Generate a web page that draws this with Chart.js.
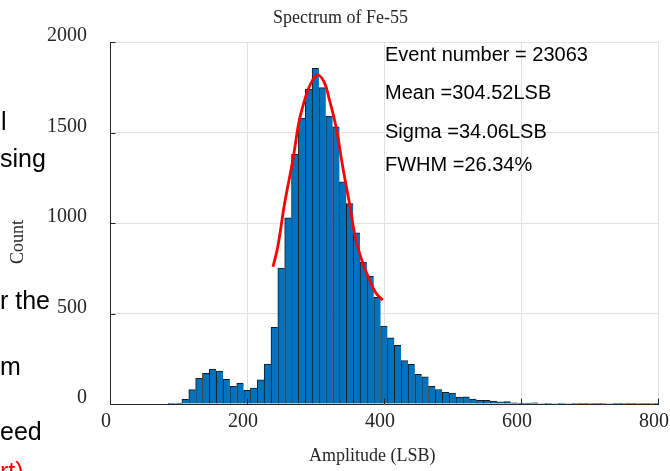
<!DOCTYPE html>
<html><head><meta charset="utf-8">
<script src="https://cdn.jsdelivr.net/npm/chart.js@4.4.1/dist/chart.umd.min.js"></script>
<style>
html,body{margin:0;padding:0;background:#fff;overflow:hidden}
#wrap{position:relative;width:670px;height:471px;overflow:hidden;background:#fff}
canvas{position:absolute;left:0;top:0}
.t{position:absolute;white-space:nowrap;line-height:1}
.serif{font-family:'Liberation Serif','Times New Roman',serif;color:#262626}
.sans{font-family:'Liberation Sans',Arial,sans-serif;color:#000}
</style></head><body>
<div id="wrap">
<canvas id="c" width="670" height="471"></canvas>
<div class="t sans" style="left:1px;top:108.8px;font-size:25px">l</div>
<div class="t sans" style="left:0px;top:145.8px;font-size:25px">sing</div>
<div class="t sans" style="left:0px;top:287.8px;font-size:25px">r the</div>
<div class="t sans" style="left:0px;top:353.8px;font-size:25px">m</div>
<div class="t sans" style="left:0px;top:418.8px;font-size:25px">eed</div>
<div class="t sans" style="left:0px;top:458.8px;font-size:25px;color:#ff0000">rt)</div>
<div class="t serif" id="title" style="left:273px;top:7.9px;font-size:18px">Spectrum of Fe-55</div>
<div class="t serif" id="xlab" style="left:309px;top:445.9px;font-size:18px">Amplitude (LSB)</div>
<div class="t serif" id="ylab" style="left:17px;top:242px;font-size:18px;transform:translate(-50%,-50%) rotate(-90deg)">Count</div>
<div class="t sans" style="left:385px;top:44.1px;font-size:20px">Event number = 23063</div>
<div class="t sans" style="left:385px;top:82.1px;font-size:20px">Mean =304.52LSB</div>
<div class="t sans" style="left:385px;top:121.1px;font-size:20px">Sigma =34.06LSB</div>
<div class="t sans" style="left:385px;top:154.1px;font-size:20px">FWHM =26.34%</div>
</div>
<script>
// ---- data ----
const binCenters = [90,100,110,120,130,140,150,160,170,180,190,200,210,220,230,240,250,260,270,280,290,300,310,320,330,340,350,360,370,380,390,400,410,420,430,440,450,460,470,480,490,500,510,520,530,540,550,560,570,580,590,600,610,620,630,640,650,660,670,680,690,700,710,720,730,740,750,760,770,780,790,800];
const counts = [1,5,26,79,142,170,193,182,136,98,114,76,88,133,221,424,751,1028,1379,1580,1740,1855,1748,1591,1532,1228,1107,946,784,706,590,430,365,324,240,219,164,150,97,80,64,61,38,40,27,20,20,16,12,13,7,5,5,7,3,2,3,2,3,2,1,2,1,2,3,1,2,1,2,1,2,1];
const fitX = [238,245,255,267,276,285,293,303,313,320,330,340,350,359,369,379,388,398];
const fitY = [758,870,1110,1350,1560,1690,1770,1818,1775,1685,1530,1305,1100,906,779,685,615,573];
const xTicks = [0,200,400,600,800];
const yTicks = [0,500,1000,1500,2000];

const serif = "'Liberation Serif','Times New Roman',serif";
const axisColor = '#262626';
const gridColor = '#e2e2e2';

const innerTicks = {
  id: 'innerTicks',
  afterDatasetsDraw(chart) {
    const {ctx, chartArea: a} = chart;
    const sx = chart.scales.x, sy = chart.scales.y;
    ctx.save();
    ctx.strokeStyle = axisColor;
    ctx.lineWidth = 1;
    xTicks.forEach(v => {
      const px = Math.round(sx.getPixelForValue(v)) + 0.5;
      ctx.beginPath(); ctx.moveTo(px, a.bottom); ctx.lineTo(px, a.bottom - 5.5); ctx.stroke();
    });
    yTicks.forEach(v => {
      const py = Math.round(sy.getPixelForValue(v)) + 0.5;
      ctx.beginPath(); ctx.moveTo(a.left, py); ctx.lineTo(a.left + 5.5, py); ctx.stroke();
    });
    ctx.restore();
  }
};

new Chart(document.getElementById('c'), {
  type: 'bar',
  data: {
    datasets: [
      {
        type: 'line',
        data: fitX.map((x, i) => ({x: x, y: fitY[i]})),
        borderColor: '#ff0000',
        borderWidth: 2.8,
        pointRadius: 0,
        tension: 0.4,
        fill: false,
        order: 0
      },
      {
        type: 'bar',
        data: binCenters.map((x, i) => ({x: x, y: counts[i]})),
        backgroundColor: '#0072BD',
        borderColor: '#1a1a1a',
        borderWidth: {top: 1, left: 1, right: 0, bottom: 0},
        borderSkipped: false,
        barPercentage: 1,
        categoryPercentage: 1,
        order: 1
      }
    ]
  },
  options: {
    responsive: false,
    animation: false,
    devicePixelRatio: 1,
    layout: {padding: {left: 0, right: 12, top: 42, bottom: 0}},
    plugins: {legend: {display: false}, tooltip: {enabled: false}, title: {display: false}},
    scales: {
      x: {
        type: 'linear', min: 0, max: 800, offset: false,
        afterBuildTicks: s => { s.ticks = xTicks.map(v => ({value: v})); },
        ticks: {font: {family: serif, size: 20}, color: axisColor, padding: 6, labelOffset: -4, maxRotation: 0, autoSkip: false, callback: v => String(v)},
        grid: {color: gridColor, drawTicks: false, lineWidth: 1, offset: false},
        border: {display: true, color: axisColor, width: 1},
        afterFit: s => { s.height = 67; s.paddingLeft = 0; s.paddingRight = 0; }
      },
      y: {
        type: 'linear', min: 0, max: 2000,
        afterBuildTicks: s => { s.ticks = yTicks.map(v => ({value: v})); },
        ticks: {font: {family: serif, size: 20}, color: axisColor, padding: 23, labelOffset: -6, autoSkip: false, callback: v => String(v)},
        grid: {color: gridColor, drawTicks: false, lineWidth: 1},
        border: {display: true, color: axisColor, width: 1},
        afterFit: s => { s.width = 110; s.paddingTop = 0; s.paddingBottom = 0; }
      }
    }
  },
  plugins: [innerTicks]
});
</script>
</body></html>
